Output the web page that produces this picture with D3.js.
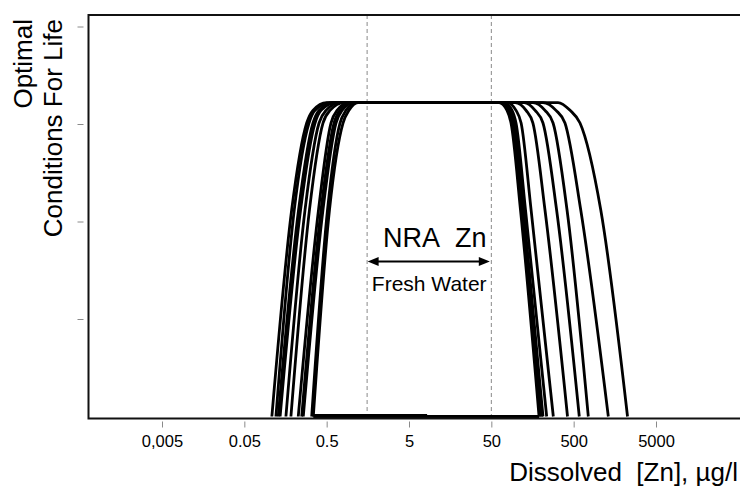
<!DOCTYPE html>
<html><head><meta charset="utf-8">
<script src="https://cdn.jsdelivr.net/npm/d3@7"></script>
<style>
html,body{margin:0;padding:0;background:#fff;}
svg{display:block;font-family:"Liberation Sans",Arial,Helvetica,sans-serif;}
</style>
</head><body>
<svg id="chart" width="740" height="486"></svg>
<script>
// ---- data ----
const xTickValues = [0.005, 0.05, 0.5, 5, 50, 500, 5000];
const xTickLabels = ["0,005", "0.05", "0.5", "5", "50", "500", "5000"];
const yTickValues = [1, 2, 3, 4];

// response levels at which each curve flank was read
const edgeLevels = [0, 2.12, 3.01, 3.14, 3.22];
// rising (left) flanks: dissolved Zn (µg/l) at each level
const leftEdges = [
  [0.108, 0.188, 0.286, 0.341, 0.500],
  [0.121, 0.202, 0.305, 0.361, 0.549],
  [0.129, 0.228, 0.341, 0.404, 0.597],
  [0.136, 0.241, 0.361, 0.427, 0.649],
  [0.160, 0.273, 0.404, 0.491, 0.726],
  [0.184, 0.309, 0.451, 0.549, 0.812],
  [0.226, 0.398, 0.564, 0.668, 0.934],
  [0.249, 0.427, 0.614, 0.726, 1.02],
  [0.260, 0.451, 0.649, 0.768, 1.07],
  [0.329, 0.512, 0.726, 0.859, 1.14],
  [0.344, 0.541, 0.790, 0.934, 1.20]
];
// falling (right) flanks: dissolved Zn (µg/l) at each level
const rightEdges = [
  [2255, 1066, 597, 452, 323],
  [1318, 609, 392, 305, 212],
  [753, 415, 281, 224, 160],
  [585, 310, 212, 170, 125],
  [421, 224, 160, 132, 97],
  [283, 152, 115, 99.7, 77.5],
  [235, 130, 99.7, 89.2, 71.3],
  [212, 123, 94.3, 84.3, 67.4],
  [204, 120, 91.7, 82, 65.6],
  [195, 117, 89.2, 79.7, 63.7],
  [190, 113, 86.7, 77.5, 62]
];
// thick base segments along the bottom
const baseFrom = [0.344, 0.344];
const baseTo = [190, 8.3];
const baseLevel = [0, 0.012];

// NRA fresh-water range
const nraRange = [1.55, 50];
const arrowLevel = 1.59;
const annotationTexts = ["NRA\u00a0\u00a0Zn", "Fresh Water"];
const annotationConc = [10.3, 8.8];
const annotationLevel = [1.74, 1.29];

const yTitleLines = ["Optimal", "Conditions For Life"];
const xTitle = "Dissolved\u00a0\u00a0[Zn], µg/l";

// ---- layout ----
const plotL = 88.5, plotT = 15, plotB = 418.5, plotR = 740;
const svg = d3.select("#chart");

const x = d3.scaleLog().domain([0.005, 5000]).range([162, 656]);
const y = d3.scaleLinear().domain([0, 4]).range([416.5, 26.5]);

// dashed reference lines
svg.append("g").selectAll("line").data(nraRange).join("line")
  .attr("x1", d => x(d)).attr("x2", d => x(d))
  .attr("y1", plotT).attr("y2", plotB)
  .attr("stroke", "#8a8a8a").attr("stroke-width", 1)
  .attr("stroke-dasharray", "4,3");

// base segments
svg.append("g").selectAll("line").data(baseFrom).join("line")
  .attr("x1", (d, i) => x(d)).attr("x2", (d, i) => x(baseTo[i]))
  .attr("y1", (d, i) => y(baseLevel[i])).attr("y2", (d, i) => y(baseLevel[i]))
  .attr("stroke", "#000").attr("stroke-width", 2.8);

// curves
const curves = leftEdges.map((le, i) => {
  const left = le.map((c, k) => [c, edgeLevels[k]]);
  const right = rightEdges[i].map((c, k) => [c, edgeLevels[k]]).reverse();
  return left.concat(right);
});
const line = d3.line().x(d => x(d[0])).y(d => y(d[1])).curve(d3.curveMonotoneX);
svg.append("g").selectAll("path").data(curves).join("path")
  .attr("d", line)
  .attr("fill", "none").attr("stroke", "#000")
  .attr("stroke-width", 2.8).attr("stroke-linejoin", "round");

// frame
svg.append("path")
  .attr("d", `M${plotR},${plotT}H${plotL}V${plotB}H${plotR}`)
  .attr("fill", "none").attr("stroke", "#111").attr("stroke-width", 2);

// axes (ticks offset from frame)
const xAxis = d3.axisBottom(x).tickValues(xTickValues)
  .tickFormat((d, i) => xTickLabels[i]).tickSize(6).tickPadding(8);
const gx = svg.append("g").attr("transform", `translate(0,${plotB + 3})`).call(xAxis);
gx.select(".domain").remove();
gx.selectAll(".tick line").attr("stroke", "#8a8a8a");
gx.selectAll(".tick text").attr("fill", "#000")
  .style("font-size", "16.5px").style("font-family", '"Liberation Sans",Arial,sans-serif');

const yAxis = d3.axisLeft(y).tickValues(yTickValues).tickFormat("").tickSize(6);
const gy = svg.append("g").attr("transform", `translate(${plotL - 5},0)`).call(yAxis);
gy.select(".domain").remove();
gy.selectAll(".tick line").attr("stroke", "#8a8a8a");

// arrow
const ax1 = x(nraRange[0]) + 0.5, ax2 = x(nraRange[1]) - 1.5, ay = y(arrowLevel);
svg.append("line").attr("x1", ax1 + 8).attr("x2", ax2 - 8)
  .attr("y1", ay).attr("y2", ay).attr("stroke", "#000").attr("stroke-width", 2);
svg.append("path").attr("d", `M${ax1},${ay}L${ax1 + 11},${ay - 4.5}L${ax1 + 11},${ay + 4.5}Z`).attr("fill", "#000");
svg.append("path").attr("d", `M${ax2},${ay}L${ax2 - 11},${ay - 4.5}L${ax2 - 11},${ay + 4.5}Z`).attr("fill", "#000");

// annotation texts
const annSizes = [27, 21];
svg.append("g").selectAll("text").data(annotationTexts).join("text")
  .attr("x", (d, i) => x(annotationConc[i]))
  .attr("y", (d, i) => y(annotationLevel[i]))
  .attr("text-anchor", "middle")
  .style("font-size", (d, i) => annSizes[i] + "px")
  .text(d => d);

// y title
const yTitleX = [32, 62];
svg.append("g").selectAll("text").data(yTitleLines).join("text")
  .attr("transform", (d, i) => `translate(${yTitleX[i]},19) rotate(-90)`)
  .attr("text-anchor", "end")
  .style("font-size", "26px")
  .text(d => d);

// x title
svg.append("text").attr("x", 738).attr("y", 481)
  .attr("text-anchor", "end").style("font-size", "26px").text(xTitle);
</script>
</body></html>
